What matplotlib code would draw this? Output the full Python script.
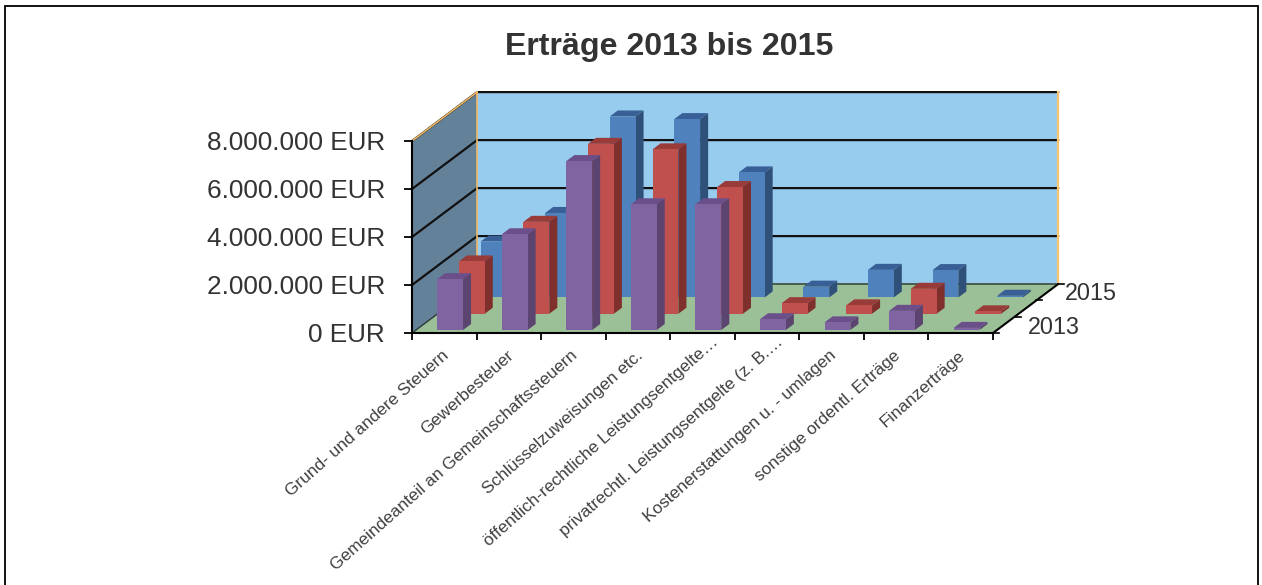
import matplotlib
matplotlib.use('Agg')
import matplotlib.pyplot as plt
from matplotlib.patches import Polygon, Rectangle
from matplotlib.ticker import FuncFormatter
from matplotlib.transforms import ScaledTranslation

categories = ['Grund- und andere Steuern', 'Gewerbesteuer', 'Gemeindeanteil an Gemeinschaftssteuern',
              'Schlüsselzuweisungen etc.', 'öffentlich-rechtliche Leistungsentgelte…',
              'privatrechtl. Leistungsentgelte (z. B.…', 'Kostenerstattungen u. - umlagen',
              'sonstige ordentl. Erträge', 'Finanzerträge']
v2013 = [2120000, 3990000, 7040000, 5240000, 5240000, 450000, 320000, 800000, 90000]
v2014 = [2180000, 3830000, 7080000, 6850000, 5280000, 440000, 350000, 1040000, 100000]
v2015 = [2330000, 3520000, 7540000, 7430000, 5210000, 450000, 1150000, 1140000, 70000]
y_ticks = [0, 2000000, 4000000, 6000000, 8000000]

W, H = 1262, 585
plt.rcParams['font.family'] = ['Liberation Sans', 'DejaVu Sans']

# oblique projection, one depth row = 21.7 px right and 16.3 px up
DX = 21.7 / 64.55
DY = 16.3 * 8000000 / 192
N_ROWS = 3


def proj(cat, val, depth):
    return cat + DX * depth, val + DY * depth


def face(ax, pts, color, z, edge='none', lw=0):
    ax.add_patch(Polygon([proj(*p) for p in pts], closed=True, fc=color, ec=edge, lw=lw,
                         zorder=z, clip_on=False))


def bar3d(ax, cat, val, row, colors, z):
    x0, x1 = cat + 0.33, cat + 0.73
    d0, d1 = row + 0.18, row + 0.55
    front, side, top = colors
    face(ax, [(x1, 0, d0), (x1, 0, d1), (x1, val, d1), (x1, val, d0)], side, z)
    face(ax, [(x0, val, d0), (x1, val, d0), (x1, val, d1), (x0, val, d1)], top, z)
    face(ax, [(x0, 0, d0), (x1, 0, d0), (x1, val, d0), (x0, val, d0)], front, z)


fig = plt.figure(figsize=(W / 100, H / 100), dpi=100, facecolor='white')
fig.patches.append(Rectangle((4.5 / W, -0.01), (1258 - 4.5) / W, 1.0 - 5.5 / H + 0.01, transform=fig.transFigure,
                             fc='white', ec='black', lw=1.3, zorder=-1))
ax = fig.add_axes([412 / W, (H - 333) / H, 581 / W, 192 / H])
ax.set_xlim(0, 9)
ax.set_ylim(0, 8000000)
ax.patch.set_visible(False)
for s in ['top', 'right']:
    ax.spines[s].set_visible(False)
for s in ['left', 'bottom']:
    ax.spines[s].set_linewidth(1.5)
    ax.spines[s].set_zorder(30)

ncat = len(categories)
# walls and floor
face(ax, [(0, 0, N_ROWS), (ncat, 0, N_ROWS), (ncat, 8000000, N_ROWS), (0, 8000000, N_ROWS)], '#97CCEF', 1)
face(ax, [(0, 0, 0), (0, 0, N_ROWS), (0, 8000000, N_ROWS), (0, 8000000, 0)], '#64819A', 1)
face(ax, [(0, 0, 0), (ncat, 0, 0), (ncat, 0, N_ROWS), (0, 0, N_ROWS)], '#9BBF97', 1)

for t in y_ticks[1:]:
    xs, ys = zip(proj(0, t, 0), proj(0, t, N_ROWS), proj(ncat, t, N_ROWS))
    ax.plot(xs, ys, color='#111111', lw=1.6, zorder=2, clip_on=False)
xs, ys = zip(proj(0, 0, N_ROWS), proj(ncat, 0, N_ROWS))
ax.plot(xs, ys, color='#3A4A3A', lw=1.2, zorder=2, clip_on=False)
xs, ys = zip(proj(0, 0, 0), proj(0, 0, N_ROWS))
ax.plot(xs, ys, color='#2A3A3A', lw=1.0, zorder=2, clip_on=False)
# orange wall edges
xs, ys = zip(proj(0, 8000000, 0), proj(0, 8000000, N_ROWS))
ax.plot(xs, ys, color='#F0B965', lw=1.2, zorder=3, clip_on=False)
xs, ys = zip(proj(0, 8000000, N_ROWS), proj(0, 0, N_ROWS))
ax.plot(xs, ys, color='#F0B965', lw=1.2, zorder=3, clip_on=False)
xs, ys = zip(proj(ncat, 8000000, N_ROWS), proj(ncat, 0, N_ROWS))
ax.plot(xs, ys, color='#FAC36E', lw=1.6, zorder=3, clip_on=False)

# series axis on the right edge of the floor
xs, ys = zip(proj(ncat, 0, 0), proj(ncat, 0, N_ROWS))
ax.plot(xs, ys, color='black', lw=1.5, zorder=30, clip_on=False)
for d in range(N_ROWS + 1):
    xs, ys = zip(proj(ncat, 0, d), proj(ncat + 0.09, 0, d))
    ax.plot(xs, ys, color='black', lw=1.2, zorder=30, clip_on=False)
for d, off, drop, lab in [(0.5, 0.37, -125000, '2013'), (2.5, 0.28, -40000, '2015')]:
    x, y = proj(ncat + off, drop, d)
    ax.text(x, y, lab, fontsize=16.8, color='#333333', ha='left', va='center', zorder=30, clip_on=False)

series = [(2, v2015, ('#4F81BD', '#2F5078', '#386096')),
          (1, v2014, ('#C0504D', '#7F2F2C', '#993B38')),
          (0, v2013, ('#8064A2', '#5B4470', '#6A4F8A'))]
z = 5
for row, vals, cols in series:
    for i, v in enumerate(vals):
        bar3d(ax, i, v, row, cols, z)
        z += 1

ax.set_yticks(y_ticks)
ax.yaxis.set_major_formatter(FuncFormatter(lambda v, p: f'{int(v):,} EUR'.replace(',', '.')))
ax.tick_params(axis='y', labelsize=18.8, labelcolor='#333333', length=6, width=1.3, pad=13.4)
ax.set_xticks(range(ncat + 1))
ax.set_xticks([i + 0.46 for i in range(ncat)], minor=True)
ax.set_xticklabels([''] * (ncat + 1))
ax.tick_params(axis='x', which='major', length=5, width=1.3)
ax.tick_params(axis='x', which='minor', length=0, pad=10.5)
ax.set_xticklabels(categories, minor=True, rotation=41.5, ha='right', va='top', rotation_mode='anchor',
                   fontsize=12.45, color='#404040')
# the two cut off labels sit further along the axis
for lab in ax.get_xticklabels(minor=True):
    if lab.get_text().endswith('…'):
        lab.set_transform(lab.get_transform() + ScaledTranslation(0.11, 0.13, fig.dpi_scale_trans))

fig.text(669 / W, 1 - 47 / H, 'Erträge 2013 bis 2015', fontsize=23.1, fontweight='bold', color='#333333',
         ha='center', va='center')

fig.savefig('out.png', dpi=100)
